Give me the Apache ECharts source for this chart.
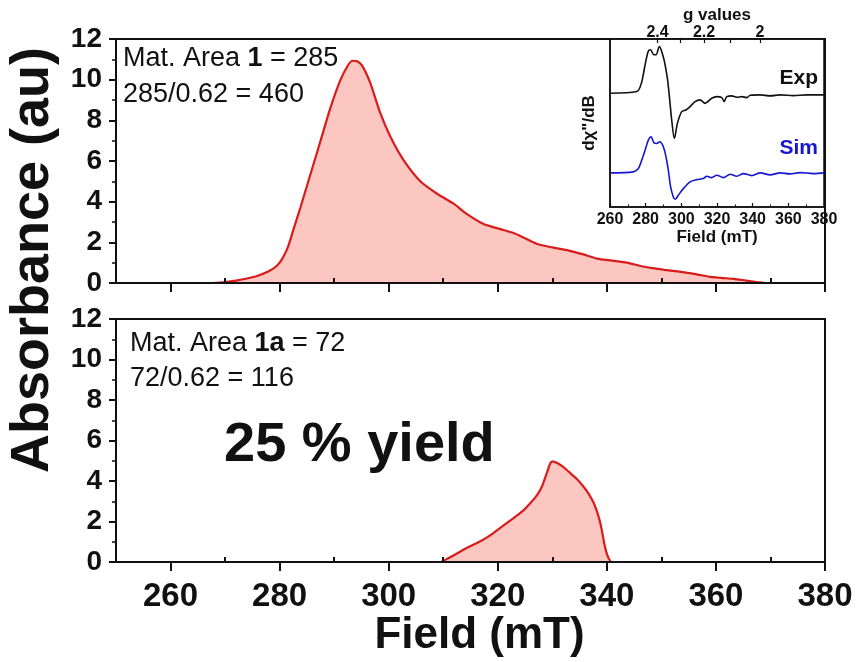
<!DOCTYPE html>
<html>
<head>
<meta charset="utf-8">
<script src="https://cdn.jsdelivr.net/npm/echarts@6/dist/echarts.min.js"></script>
<style>
  html, body { margin: 0; padding: 0; background: #fff; }
  #chart { width: 857px; height: 662px; }
</style>
</head>
<body>
<div id="chart"></div>
<script>
// Integrated absorption of sample 1 (upper panel), field in mT
const fieldTop = [267.5, 270, 272, 274, 276, 278, 279.5, 280.5, 281.5, 282.5, 283.8, 285.6, 287.4, 289.3, 291.1, 292.3, 293.3, 294.2, 295.1, 296.6, 298.4, 300.3, 302.7, 305.8, 308.8, 311.9, 314.3, 317.4, 320.5, 322.9, 325, 327.2, 330, 332.7, 335.5, 338.2, 341, 343.7, 346, 348, 350.5, 352.9, 356, 359, 361, 363.3, 365.5, 367.5, 369];
const absTop = [0, 0.05, 0.12, 0.22, 0.36, 0.58, 0.85, 1.2, 1.75, 2.6, 3.7, 5.3, 6.9, 8.6, 9.95, 10.6, 10.93, 10.9, 10.7, 9.85, 8.4, 7.2, 6.05, 5.0, 4.4, 3.9, 3.4, 2.9, 2.65, 2.46, 2.2, 1.92, 1.75, 1.62, 1.42, 1.2, 1.1, 1.0, 0.85, 0.74, 0.65, 0.57, 0.45, 0.3, 0.25, 0.2, 0.12, 0.05, 0];

// Integrated absorption of sample 1a (lower panel)
const fieldBottom = [297, 305, 309.5, 311, 314.3, 317, 319.2, 321, 322.9, 324.5, 326, 327.2, 328.1, 329, 329.6, 330, 330.9, 332, 333.3, 334.5, 335.7, 336.7, 337.6, 338.3, 338.8, 339.2, 339.5, 339.9, 340.3, 340.9, 350, 360];
const absBottom = [0, 0, 0, 0.2, 0.69, 1.05, 1.43, 1.8, 2.17, 2.5, 2.91, 3.3, 3.73, 4.4, 4.85, 4.97, 4.89, 4.7, 4.39, 4.1, 3.73, 3.35, 2.91, 2.4, 1.93, 1.4, 0.94, 0.5, 0.2, 0, 0, 0];

// First-derivative EPR spectra for the inset (arbitrary units, traces stacked)
const fieldExp = [260, 275, 277.6, 279.5, 281.4, 282.7, 284.6, 285.8, 287.7, 289, 290.3, 291.4, 292.3, 293.3, 294.6, 296.1, 297.8, 300.2, 302.6, 304.9, 307.7, 310.5, 313.3, 317, 319.9, 322.7, 324, 325.5, 328.3, 331.1, 333.9, 336.7, 338.6, 344.2, 349.8, 355.4, 362.9, 370.4, 380];
const sigExp = [11.33, 11.5, 12.33, 14.0, 15.5, 15.67, 15.17, 15.17, 16.0, 15.5, 14.67, 13.67, 12.67, 11.0, 8.67, 6.83, 8.33, 9.5, 9.67, 10.0, 10.5, 10.67, 10.33, 10.83, 11.0, 10.9, 10.5, 11.0, 11.07, 10.93, 11.0, 10.9, 11.13, 11.17, 11.07, 11.17, 11.1, 11.17, 11.17];
const fieldSim = [260, 273.1, 275.9, 277.8, 279.7, 281.5, 283, 284.6, 286.1, 288, 289.9, 291.4, 292.7, 294, 295.5, 296.6, 298.3, 301.1, 304.9, 308.6, 312.3, 314.2, 317, 319.9, 323.6, 327.4, 331.1, 334.9, 339.5, 344.2, 349.8, 355.4, 361, 366.6, 374, 380];
const sigSim = [3.4, 3.5, 3.83, 4.67, 5.67, 6.67, 7.0, 6.4, 6.33, 6.5, 6.0, 5.0, 3.67, 2.0, 1.0, 0.77, 1.17, 1.83, 2.5, 2.73, 2.83, 3.07, 2.93, 3.17, 2.93, 3.27, 3.07, 3.33, 3.13, 3.4, 3.2, 3.4, 3.3, 3.43, 3.33, 3.4];

// Axis ticks
const fieldMajor = [260, 280, 300, 320, 340, 360, 380];
const fieldMinor = [250, 270, 290, 310, 330, 350, 370];
const gTicks = [2.4, 2.3, 2.2, 2.1, 2.0];
const gLabelled = [2.4, 2.2, 2.0];
const mwFreqGHz = 9.63;               // microwave frequency of the spectrometer
const gToField = g => 71.4477 * mwFreqGHz / g;   // resonance field in mT

const zip = (xs, ys) => xs.map((x, i) => [x, ys[i]]);

const FONT = '"Liberation Sans", Arial, Helvetica, sans-serif';
const INK = '#111';
const RED = '#d81c1c';
const PINK = '#fcc6c1';
const BLUE = '#1616d2';

function mainX(gridIndex, withLabels) {
  return [
    {
      type: 'value', gridIndex, min: 250, max: 380, z: 3,
      axisLine: { show: true, onZero: false, lineStyle: { color: INK, width: 2 } },
      axisTick: { show: true, customValues: fieldMajor, length: 9, lineStyle: { color: INK, width: 2 } },
      axisLabel: withLabels
        ? { show: true, customValues: fieldMajor, fontFamily: FONT, fontWeight: 'bold', fontSize: 33, color: INK, margin: 18 }
        : { show: false },
      splitLine: { show: false },
      name: withLabels ? 'Field (mT)' : '',
      nameLocation: 'middle', nameGap: 46,
      nameTextStyle: { fontFamily: FONT, fontWeight: 'bold', fontSize: 44, color: INK, padding: [0, 0, 0, 18] }
    },
    {
      type: 'value', gridIndex, min: 250, max: 380, z: 3,
      axisLine: { show: false },
      axisTick: { show: true, customValues: fieldMinor, length: 5, lineStyle: { color: INK, width: 2 } },
      axisLabel: { show: false },
      splitLine: { show: false }
    }
  ];
}

function mainY(gridIndex) {
  return {
    type: 'value', gridIndex, min: 0, max: 12, interval: 2, z: 3,
    axisLine: { show: true, onZero: false, lineStyle: { color: INK, width: 2 } },
    axisTick: { show: true, length: 7, lineStyle: { color: INK, width: 2 } },
    minorTick: { show: true, splitNumber: 2, length: 4, lineStyle: { color: INK, width: 1.5 } },
    axisLabel: { fontFamily: FONT, fontWeight: 'bold', fontSize: 28, color: INK, margin: 14 },
    splitLine: { show: false },
    minorSplitLine: { show: false }
  };
}

const chart = echarts.init(document.getElementById('chart'), null, { renderer: 'canvas' });

chart.setOption({
  backgroundColor: '#fff',
  animation: false,
  grid: [
    { left: 116, right: 32, top: 39, height: 244, show: true, borderColor: INK, borderWidth: 2, backgroundColor: 'transparent', z: 0 },
    { left: 116, right: 32, top: 319, height: 243, show: true, borderColor: INK, borderWidth: 2, backgroundColor: 'transparent', z: 0 },
    { left: 610, width: 214, top: 39, height: 168, show: true, borderColor: INK, borderWidth: 1.5, backgroundColor: '#fff', z: 5 }
  ],
  xAxis: [
    ...mainX(0, false),
    ...mainX(1, true),
    {
      type: 'value', gridIndex: 2, min: 260, max: 380, interval: 20, z: 7,
      axisLine: { show: true, onZero: false, lineStyle: { color: INK, width: 1.5 } },
      axisTick: { show: true, inside: true, length: 4, lineStyle: { color: INK, width: 1.2 } },
      minorTick: { show: true, splitNumber: 2, length: 2.5, lineStyle: { color: INK, width: 1 } },
      axisLabel: { fontFamily: FONT, fontWeight: 'bold', fontSize: 16, color: INK, margin: 5 },
      splitLine: { show: false },
      name: 'Field (mT)', nameLocation: 'middle', nameGap: 18,
      nameTextStyle: { fontFamily: FONT, fontWeight: 'bold', fontSize: 17, color: INK }
    },
    {
      type: 'value', gridIndex: 2, position: 'top', min: 260, max: 380, z: 7,
      axisLine: { show: true, onZero: false, lineStyle: { color: INK, width: 1.5 } },
      axisTick: { show: true, inside: true, length: 4, customValues: gTicks.map(gToField), lineStyle: { color: INK, width: 1.2 } },
      axisLabel: {
        customValues: gLabelled.map(gToField), fontFamily: FONT, fontWeight: 'bold', fontSize: 16, color: INK, margin: -2,
        formatter: v => String(parseFloat((71.4477 * mwFreqGHz / v).toFixed(1)))
      },
      splitLine: { show: false },
      name: 'g values', nameLocation: 'middle', nameGap: 13,
      nameTextStyle: { fontFamily: FONT, fontWeight: 'bold', fontSize: 17, color: INK }
    }
  ],
  yAxis: [
    mainY(0),
    mainY(1),
    {
      type: 'value', gridIndex: 2, min: 0, max: 16.74, z: 7,
      axisLine: { show: true, lineStyle: { color: INK, width: 1.5 } },
      axisTick: { show: false }, axisLabel: { show: false }, splitLine: { show: false },
      name: 'd\u03C7"/dB', nameLocation: 'middle', nameGap: 12, nameRotate: 90,
      nameTextStyle: { fontFamily: FONT, fontWeight: 'bold', fontSize: 17, color: INK }
    }
  ],
  series: [
    {
      type: 'line', xAxisIndex: 0, yAxisIndex: 0, data: zip(fieldTop, absTop),
      showSymbol: false, smooth: 0.25, z: 2,
      lineStyle: { color: RED, width: 2.2 },
      areaStyle: { color: PINK, opacity: 1 }
    },
    {
      type: 'line', xAxisIndex: 2, yAxisIndex: 1, data: zip(fieldBottom, absBottom),
      showSymbol: false, smooth: 0.2, z: 2,
      lineStyle: { color: RED, width: 2.2 },
      areaStyle: { color: PINK, opacity: 1 }
    },
    {
      type: 'line', xAxisIndex: 4, yAxisIndex: 2, data: zip(fieldExp, sigExp),
      showSymbol: false, smooth: 0.3, z: 6,
      lineStyle: { color: INK, width: 1.6 }
    },
    {
      type: 'line', xAxisIndex: 4, yAxisIndex: 2, data: zip(fieldSim, sigSim),
      showSymbol: false, smooth: 0.3, z: 6,
      lineStyle: { color: BLUE, width: 1.6 }
    }
  ],
  graphic: [
    {
      type: 'text', x: 33, y: 260, rotation: Math.PI / 2, z: 10,
      style: { text: 'Absorbance (au)', fontFamily: FONT, fontWeight: 'bold', fontSize: 54, fill: INK, align: 'center', verticalAlign: 'middle' }
    },
    {
      type: 'text', x: 123, y: 59, z: 10,
      style: {
        text: 'Mat. Area {b|1} = 285', fontFamily: FONT, fontSize: 27, fill: INK, verticalAlign: 'middle',
        rich: { b: { fontFamily: FONT, fontSize: 27, fontWeight: 'bold', fill: INK } }
      }
    },
    {
      type: 'text', x: 123, y: 95, z: 10,
      style: { text: '285/0.62 = 460', fontFamily: FONT, fontSize: 27, fill: INK, verticalAlign: 'middle' }
    },
    {
      type: 'text', x: 130, y: 344, z: 10,
      style: {
        text: 'Mat. Area {b|1a} = 72', fontFamily: FONT, fontSize: 27, fill: INK, verticalAlign: 'middle',
        rich: { b: { fontFamily: FONT, fontSize: 27, fontWeight: 'bold', fill: INK } }
      }
    },
    {
      type: 'text', x: 130, y: 379, z: 10,
      style: { text: '72/0.62 = 116', fontFamily: FONT, fontSize: 27, fill: INK, verticalAlign: 'middle' }
    },
    {
      type: 'text', x: 224, y: 446, z: 10,
      style: { text: '25 % yield', fontFamily: FONT, fontWeight: 'bold', fontSize: 56, fill: INK, verticalAlign: 'middle' }
    },
    {
      type: 'text', x: 818, y: 78, z: 10,
      style: { text: 'Exp', fontFamily: FONT, fontWeight: 'bold', fontSize: 21, fill: INK, align: 'right', verticalAlign: 'middle' }
    },
    {
      type: 'text', x: 818, y: 148, z: 10,
      style: { text: 'Sim', fontFamily: FONT, fontWeight: 'bold', fontSize: 21, fill: BLUE, align: 'right', verticalAlign: 'middle' }
    }
  ]
});
</script>
</body>
</html>
